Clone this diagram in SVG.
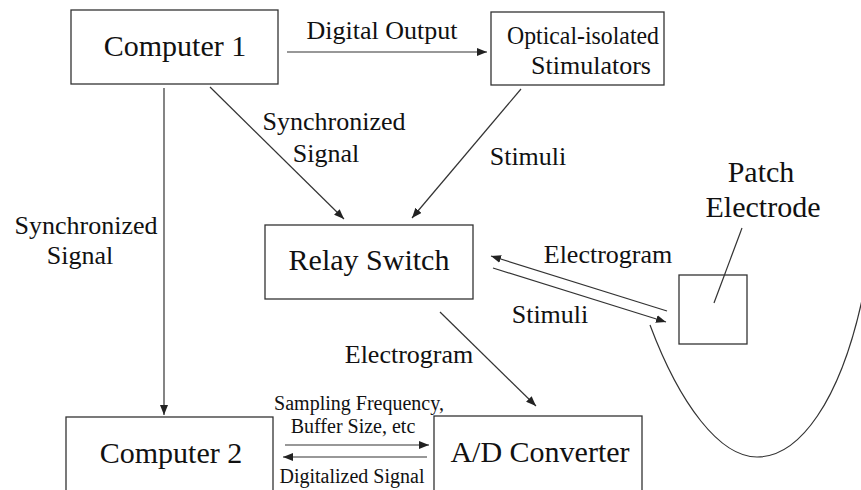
<svg xmlns="http://www.w3.org/2000/svg" width="861" height="490" viewBox="0 0 861 490">
<defs>
<marker id="ah" viewBox="0 0 10 8" refX="10" refY="4" markerWidth="10" markerHeight="8" markerUnits="userSpaceOnUse" orient="auto">
<path d="M0,0 L10,4 L0,8 z" fill="#222"/>
</marker>
</defs>
<style>
.box{fill:#fff;stroke:#333;stroke-width:1.3}
.ln{fill:none;stroke:#333;stroke-width:1.2}
.ar{fill:none;stroke:#333;stroke-width:1.2;marker-end:url(#ah)}
.nt{font-size:30px;text-anchor:middle;fill:#111}
.lb{font-size:26px;text-anchor:middle;fill:#111}
.sm{font-size:20px;text-anchor:middle;fill:#111}
</style>
<rect width="861" height="490" fill="#fff"/>
<g font-family="'Liberation Serif', 'Times New Roman', serif">
<g id="connectors">
<line class="ar" x1="287" y1="52" x2="487" y2="52"/>
<line class="ar" x1="210" y1="87" x2="344" y2="219"/>
<line class="ar" x1="521" y1="89" x2="412" y2="218"/>
<line class="ar" x1="164" y1="88" x2="164" y2="415"/>
<line class="ar" x1="667" y1="311" x2="491" y2="256"/>
<line class="ar" x1="493" y1="268" x2="666" y2="322"/>
<line class="ar" x1="440" y1="312" x2="536" y2="406"/>
<line class="ar" x1="285" y1="445" x2="429" y2="445"/>
<line class="ar" x1="427" y1="457" x2="283" y2="457"/>
<text class="lb" x="382" y="39">Digital Output</text>
<text class="lb" x="334" y="130">Synchronized</text>
<text class="lb" x="326" y="162">Signal</text>
<text class="lb" x="528" y="165">Stimuli</text>
<text class="lb" x="86" y="234">Synchronized</text>
<text class="lb" x="80" y="264">Signal</text>
<text class="lb" x="608" y="263">Electrogram</text>
<text class="lb" x="550" y="323">Stimuli</text>
<text class="lb" x="409" y="363">Electrogram</text>
<text class="sm" x="359" y="410">Sampling Frequency,</text>
<text class="sm" x="353" y="433">Buffer  Size, etc</text>
<text class="sm" x="352" y="483">Digitalized Signal</text>
</g>
<g id="computer1">
<rect class="box" x="71" y="10" width="207" height="74"/>
<text class="nt" x="175" y="56">Computer 1</text>
</g>
<g id="stimulators">
<rect class="box" x="491" y="12" width="173" height="73"/>
<text class="lb" x="583" y="44" textLength="152" lengthAdjust="spacingAndGlyphs">Optical-isolated</text>
<text class="lb" x="591" y="74">Stimulators</text>
</g>
<g id="relay">
<rect class="box" x="265" y="225" width="208" height="74"/>
<text class="nt" x="369" y="270">Relay Switch</text>
</g>
<g id="computer2">
<rect class="box" x="66" y="417" width="207" height="80"/>
<text class="nt" x="171" y="463">Computer 2</text>
</g>
<g id="adconverter">
<rect class="box" x="434" y="416" width="208" height="80"/>
<text class="nt" x="540" y="462">A/D Converter</text>
</g>
<g id="patch">
<rect class="box" x="679" y="275" width="68" height="69"/>
<line class="ln" x1="742" y1="228" x2="714" y2="303"/>
<text class="nt" x="761" y="182">Patch</text>
<text class="nt" x="763" y="217">Electrode</text>
<path class="ln" d="M650,325 C680,405 720,457 757,457 C800,457 840,400 862,300"/>
</g>
</g>
</svg>
